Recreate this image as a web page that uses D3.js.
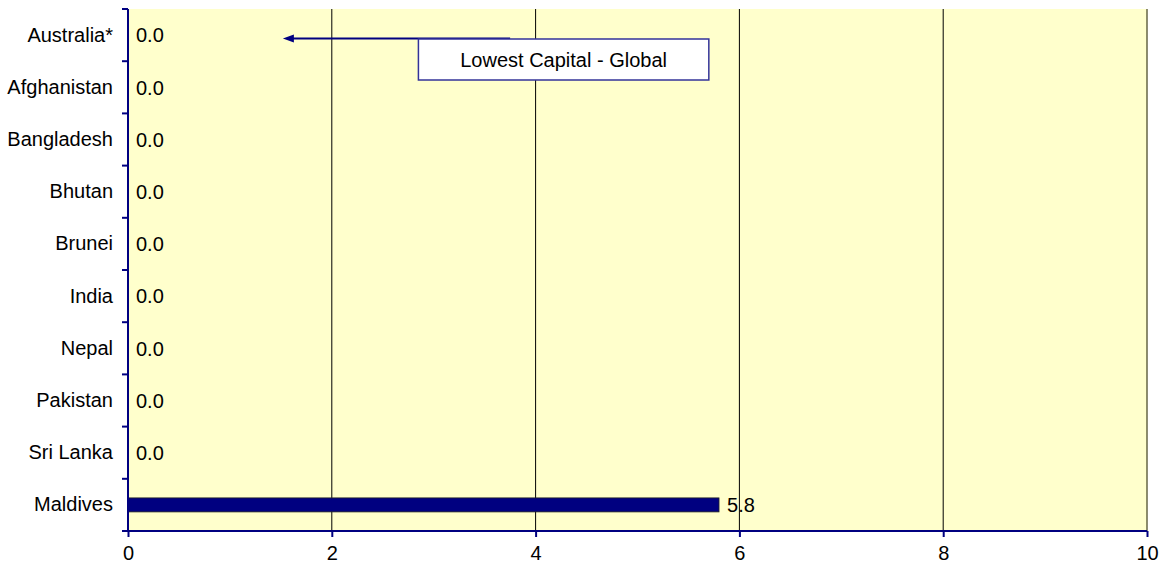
<!DOCTYPE html>
<html lang="en">
<head>
<meta charset="utf-8">
<title>Lowest capital</title>
<script src="https://cdn.jsdelivr.net/npm/d3@7"></script>
<style>
	body { margin: 0; background: #fff; }
	text { font-family: "Liberation Sans", Arial, Helvetica, sans-serif; fill: #000; }
</style>
</head>
<body>
<script>
// data
var countries = ["Australia*", "Afghanistan", "Bangladesh", "Bhutan", "Brunei",
                 "India", "Nepal", "Pakistan", "Sri Lanka", "Maldives"];
var values = [0.0, 0.0, 0.0, 0.0, 0.0, 0.0, 0.0, 0.0, 0.0, 5.8];
var xTicks = [0, 2, 4, 6, 8, 10];
var note = "Lowest Capital - Global";

var w = 1162, h = 569;
var margin = {top: 9, right: 15, bottom: 38, left: 128};
var iw = w - margin.left - margin.right;
var ih = h - margin.top - margin.bottom;
var fs = "20px";

var svg = d3.select("body").append("svg")
	.attr("width", w)
	.attr("height", h);

var g = svg.append("g")
	.attr("transform", "translate(" + margin.left + "," + margin.top + ")");

var x = d3.scaleLinear().domain([0, 10]).range([0, iw]);
var y = d3.scaleBand().domain(countries).range([0, ih]);

// plot background
g.append("rect")
	.attr("width", iw)
	.attr("height", ih)
	.attr("fill", "#ffffcc");

// gridlines
g.selectAll("line.grid")
	.data(xTicks.slice(1, -1))
	.enter()
	.append("line")
	.attr("class", "grid")
	.attr("x1", function(d) { return x(d); })
	.attr("x2", function(d) { return x(d); })
	.attr("y1", 0)
	.attr("y2", ih)
	.attr("stroke", "#000")
	.attr("stroke-width", 1);

// right border
g.append("line")
	.attr("x1", x(10)).attr("x2", x(10))
	.attr("y1", 0).attr("y2", ih)
	.attr("stroke", "#666644")
	.attr("stroke-width", 1.5);

// bars
var barH = 14;
g.selectAll("rect.bar")
	.data(values)
	.enter()
	.append("rect")
	.attr("class", "bar")
	.attr("x", 0)
	.attr("y", function(d, i) { return y(countries[i]) + y.bandwidth() / 2 - barH / 2; })
	.attr("width", function(d) { return x(d); })
	.attr("height", barH)
	.attr("fill", "#000080")
	.attr("stroke", "#222")
	.attr("stroke-width", function(d) { return d > 0 ? 0.8 : 0; });

// value labels
g.selectAll("text.val")
	.data(values)
	.enter()
	.append("text")
	.attr("class", "val")
	.attr("x", function(d) { return x(d) + 8; })
	.attr("y", function(d, i) { return y(countries[i]) + y.bandwidth() / 2; })
	.attr("dy", "0.36em")
	.style("font-size", fs)
	.text(function(d) { return d.toFixed(1); });

// y axis
var yAxis = g.append("g")
	.call(d3.axisLeft(y).tickSize(0).tickPadding(15));
yAxis.select(".domain").remove();
yAxis.selectAll("text")
	.style("font-size", fs)
	.attr("fill", "#000");

g.append("line")
	.attr("x1", 0).attr("x2", 0)
	.attr("y1", 0).attr("y2", ih)
	.attr("stroke", "#000080")
	.attr("stroke-width", 2);

// category boundary ticks
var bounds = d3.range(countries.length + 1).map(function(i) { return i * y.step(); });
g.selectAll("line.ytick")
	.data(bounds)
	.enter()
	.append("line")
	.attr("class", "ytick")
	.attr("x1", -6).attr("x2", 0)
	.attr("y1", function(d) { return d; })
	.attr("y2", function(d) { return d; })
	.attr("stroke", "#000080")
	.attr("stroke-width", 2);

// x axis
var xAxis = g.append("g")
	.attr("transform", "translate(0," + ih + ")")
	.call(d3.axisBottom(x).tickValues(xTicks).tickSize(6).tickPadding(9).tickFormat(d3.format("d")));
xAxis.select(".domain")
	.attr("stroke", "#000080")
	.attr("stroke-width", 2)
	.attr("d", "M0,0H" + iw);
xAxis.selectAll(".tick line")
	.attr("stroke", "#000080")
	.attr("stroke-width", 2);
xAxis.selectAll("text")
	.style("font-size", fs)
	.attr("fill", "#000");

// annotation arrow
var ay = 29.5, tip = x(1.52);
g.append("line")
	.attr("x1", x(3.75)).attr("x2", tip + 8)
	.attr("y1", ay).attr("y2", ay)
	.attr("stroke", "#000080")
	.attr("stroke-width", 2);
g.append("path")
	.attr("d", "M" + tip + "," + ay + "L" + (tip + 11) + "," + (ay - 4) +
		"L" + (tip + 11) + "," + (ay + 4) + "Z")
	.attr("fill", "#000080");

var bx = x(2.85), bw = x(5.7) - x(2.85);
g.append("rect")
	.attr("x", bx)
	.attr("y", 30)
	.attr("width", bw)
	.attr("height", 41)
	.attr("fill", "#fff")
	.attr("stroke", "#333399")
	.attr("stroke-width", 1.5);

g.append("text")
	.attr("x", bx + bw / 2)
	.attr("y", 50.5)
	.attr("dy", "0.36em")
	.attr("text-anchor", "middle")
	.style("font-size", "20px")
	.text(note);
</script>
</body>
</html>
